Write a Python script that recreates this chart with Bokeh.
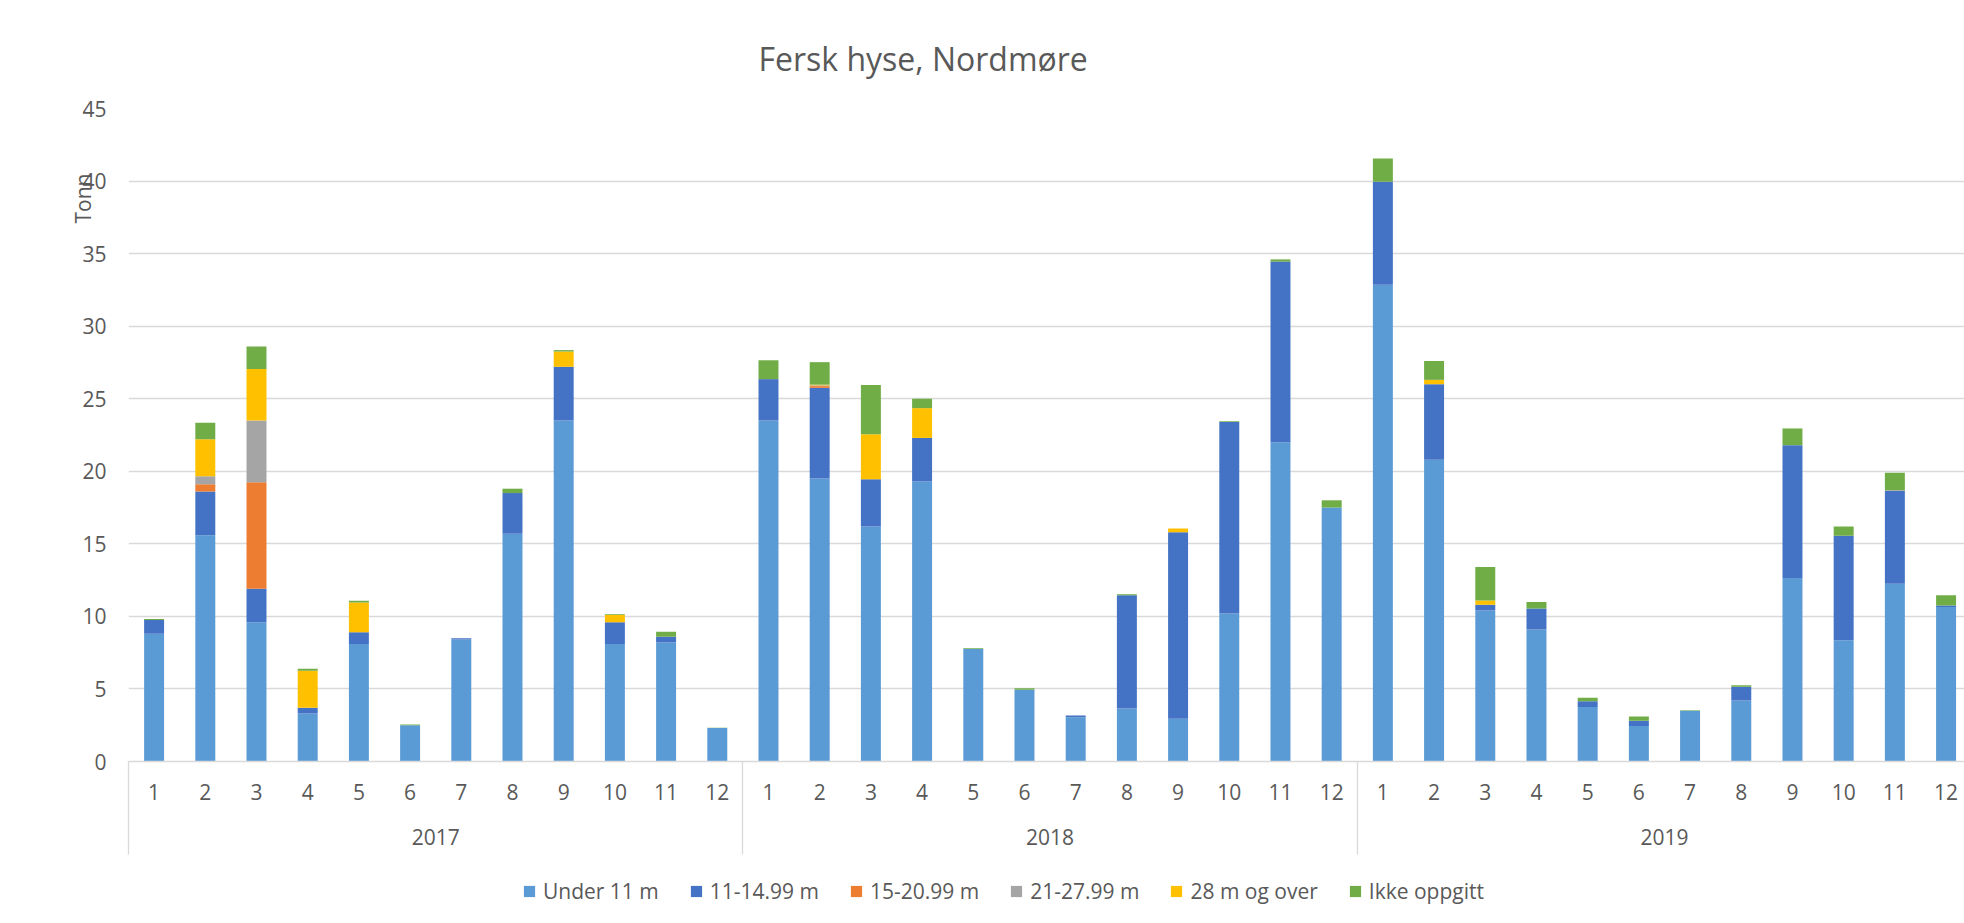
from bokeh.plotting import figure
from bokeh.layouts import column
from bokeh.models import (ColumnDataSource, FixedTicker, LinearAxis, Legend,
                          LegendItem, Range1d, Title)
from bokeh.embed import file_html
from bokeh.resources import INLINE

# ---------------- data ----------------
years = ["2017", "2018", "2019"]
months = ["1", "2", "3", "4", "5", "6", "7", "8", "9", "10", "11", "12"]
series_names = ["Under 11 m", "11-14.99 m", "15-20.99 m", "21-27.99 m", "28 m og over", "Ikke oppgitt"]
colors = ["#5B9BD5", "#4472C4", "#ED7D31", "#A5A5A5", "#FFC000", "#70AD47"]

under_11 = [8.8, 15.6, 9.6, 3.3, 8.1, 2.5, 8.4, 15.7, 23.5, 8.1, 8.2, 2.3,
            23.5, 19.5, 16.2, 19.3, 7.75, 4.95, 3.05, 3.65, 2.95, 10.2, 22.0, 17.5,
            32.85, 20.8, 10.4, 9.1, 3.75, 2.45, 3.5, 4.2, 12.65, 8.35, 12.25, 10.65]
m11_1499 = [0.95, 3.0, 2.3, 0.4, 0.8, 0.0, 0.1, 2.8, 3.7, 1.5, 0.4, 0.0,
            2.85, 6.25, 3.25, 3.0, 0.0, 0.0, 0.12, 7.8, 12.85, 13.2, 12.45, 0.0,
            7.1, 5.2, 0.4, 1.45, 0.4, 0.35, 0.0, 0.95, 9.15, 7.2, 6.4, 0.1]
m15_2099 = [0.0, 0.5, 7.35, 0.0, 0.0, 0.0, 0.0, 0.0, 0.0, 0.0, 0.0, 0.0,
            0.0, 0.12, 0.0, 0.0, 0.0, 0.0, 0.0, 0.0, 0.0, 0.0, 0.0, 0.0,
            0.0, 0.0, 0.0, 0.0, 0.0, 0.0, 0.0, 0.0, 0.0, 0.0, 0.0, 0.0]
m21_2799 = [0.0, 0.55, 4.25, 0.0, 0.0, 0.0, 0.0, 0.0, 0.0, 0.0, 0.0, 0.0,
            0.0, 0.05, 0.0, 0.0, 0.0, 0.0, 0.0, 0.0, 0.0, 0.0, 0.0, 0.0,
            0.0, 0.0, 0.0, 0.0, 0.0, 0.0, 0.0, 0.0, 0.0, 0.0, 0.05, 0.0]
m28_over = [0.0, 2.55, 3.55, 2.55, 2.05, 0.0, 0.0, 0.0, 1.05, 0.5, 0.0, 0.0,
            0.0, 0.05, 3.1, 2.05, 0.0, 0.0, 0.0, 0.0, 0.25, 0.0, 0.0, 0.0,
            0.0, 0.3, 0.3, 0.0, 0.0, 0.0, 0.0, 0.0, 0.0, 0.0, 0.0, 0.0]
ikke_oppgitt = [0.07, 1.15, 1.55, 0.15, 0.12, 0.05, 0.0, 0.3, 0.1, 0.05, 0.35, 0.03,
                1.3, 1.55, 3.4, 0.65, 0.05, 0.1, 0.0, 0.07, 0.0, 0.05, 0.15, 0.5,
                1.6, 1.3, 2.3, 0.45, 0.25, 0.3, 0.03, 0.1, 1.15, 0.65, 1.2, 0.7]

y_ticks = [0, 5, 10, 15, 20, 25, 30, 35, 40, 45]
title_text = "Fersk hyse, Nordmøre"
y_label = "Tonn"

# ---------------- build ----------------
FONT = "Open Sans"
TXT = "#595959"
GRID = "#D9D9D9"

n = len(years) * len(months)
xs = list(range(n))
keys = ["s0", "s1", "s2", "s3", "s4", "s5"]
src = ColumnDataSource(dict(x=xs, s0=under_11, s1=m11_1499, s2=m15_2099,
                            s3=m21_2799, s4=m28_over, s5=ikke_oppgitt))

p = figure(width=1964, height=870, x_range=Range1d(-0.5, 35.36), y_range=Range1d(0, 45),
           output_backend="svg", toolbar_location=None,
           min_border_left=128, min_border_right=0, min_border_top=108, min_border_bottom=109)
p.outline_line_color = None
p.background_fill_color = "white"
p.border_fill_color = "white"

rends = p.vbar_stack(keys, x="x", width=0.39, color=colors, source=src, line_color=None)

# title
p.title.text = title_text
p.title.text_font = FONT
p.title.text_font_size = "32px"
p.title.text_font_style = "normal"
p.title.text_color = TXT
p.title.align = "left"
p.title.offset = 630
p.title.standoff = 58

# rotated y label placed near the top, as in the original
p.add_layout(Title(text=y_label, align="left", offset=538, standoff=-35,
                   text_font=FONT, text_font_size="21px", text_font_style="normal",
                   text_color=TXT), "left")

# y axis
ya = p.yaxis[0]
ya.ticker = FixedTicker(ticks=y_ticks)
ya.axis_line_color = None
ya.major_tick_line_color = None
ya.minor_tick_line_color = None
ya.major_tick_out = 0
ya.major_tick_in = 0
ya.major_label_standoff = 22
ya.major_label_text_font = FONT
ya.major_label_text_font_size = "21px"
ya.major_label_text_color = TXT
p.ygrid.ticker = FixedTicker(ticks=y_ticks)
p.ygrid.grid_line_color = GRID
p.ygrid.grid_line_width = 1.3
p.xgrid.grid_line_color = None

# month axis (group separators drawn as long minor ticks)
month_labels = {i: months[i % 12] for i in xs}
xa = p.xaxis[0]
xa.ticker = FixedTicker(ticks=xs, minor_ticks=[-0.5 + 12 * k for k in range(len(years) + 1)])
xa.major_label_overrides = month_labels
xa.axis_line_color = GRID
xa.axis_line_width = 1.3
xa.major_tick_line_color = None
xa.major_tick_out = 0
xa.major_tick_in = 0
xa.minor_tick_line_color = GRID
xa.minor_tick_line_width = 1.3
xa.minor_tick_in = 0
xa.minor_tick_out = 93
xa.major_label_standoff = -71
xa.major_label_text_font = FONT
xa.major_label_text_font_size = "21px"
xa.major_label_text_color = TXT

# year axis
year_pos = [5.5 + 12 * k for k in range(len(years))]
yr = LinearAxis(ticker=FixedTicker(ticks=year_pos),
                major_label_overrides={pos: y for pos, y in zip(year_pos, years)})
yr.axis_line_color = None
yr.major_tick_line_color = None
yr.minor_tick_line_color = None
yr.major_tick_out = 0
yr.major_tick_in = 0
yr.minor_tick_out = 0
yr.major_label_standoff = 26
yr.major_label_text_font = FONT
yr.major_label_text_font_size = "21px"
yr.major_label_text_color = TXT
p.add_layout(yr, "below")

# legend in its own strip below the chart; its swatches come from the same stacked
# series, drawn far outside this strip's visible ranges so only the legend shows
lf = figure(width=1964, height=53, x_range=Range1d(1000, 1001), y_range=Range1d(1000, 1001),
            output_backend="svg", toolbar_location=None, x_axis_type=None, y_axis_type=None,
            min_border_left=0, min_border_right=0, min_border_top=0, min_border_bottom=0)
lf.outline_line_color = None
lf.xgrid.grid_line_color = None
lf.ygrid.grid_line_color = None
lf.background_fill_color = "white"
lf.border_fill_color = "white"
swatches = lf.vbar_stack(keys, x="x", width=0.39, color=colors, source=src, line_color=None)
legend = Legend(items=[LegendItem(label=nm, renderers=[r]) for nm, r in zip(series_names, swatches)],
                orientation="horizontal", location=(394, 18),
                label_text_font=FONT, label_text_font_size="21px", label_text_color=TXT,
                glyph_width=14, glyph_height=14, label_standoff=7, spacing=30,
                padding=0, margin=0, border_line_color=None, background_fill_alpha=0)
lf.add_layout(legend)

layout = column(p, lf, spacing=0)
open("out.html", "w").write(file_html(layout, INLINE))
